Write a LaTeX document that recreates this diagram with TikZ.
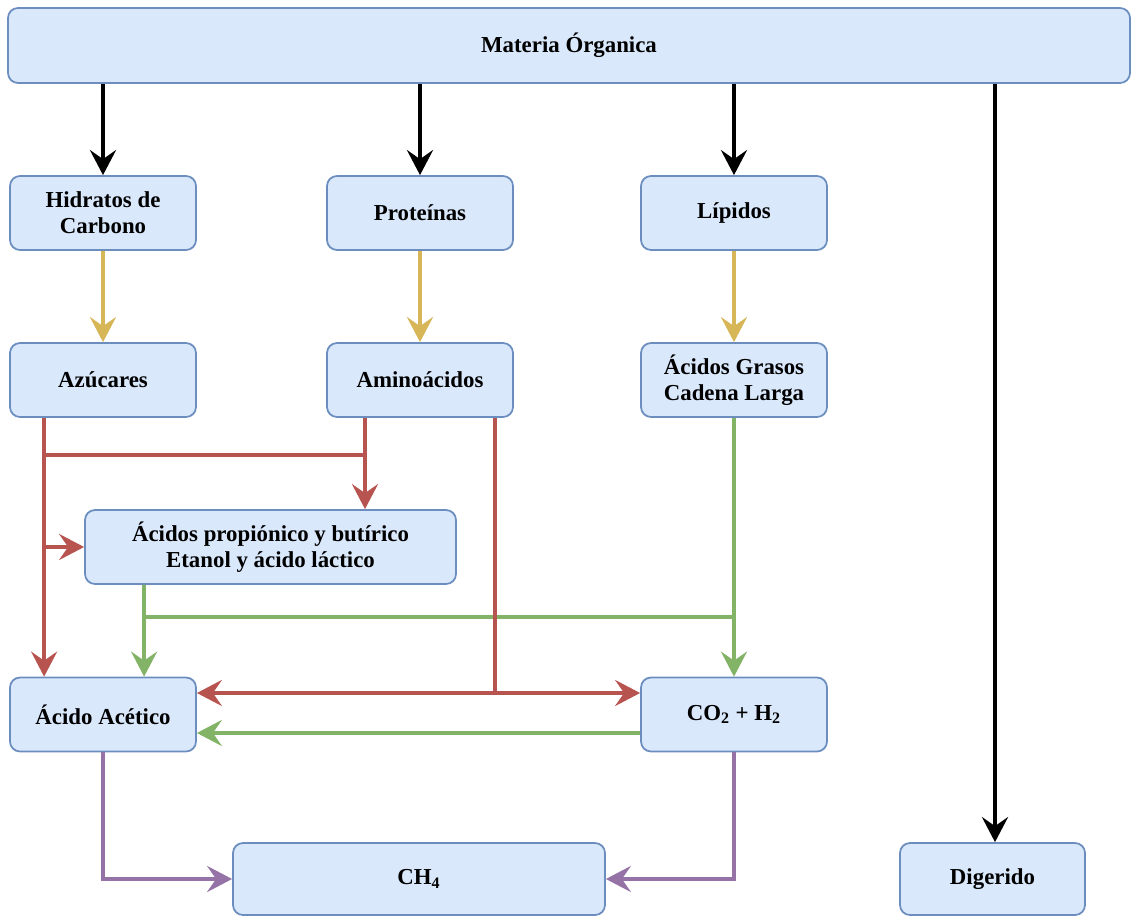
\documentclass[tikz,border=0pt]{standalone}
\usepackage{fontspec}
\setmainfont{Liberation Serif}
\usepackage{xcolor}
\usetikzlibrary{arrows.meta,positioning,calc}

\definecolor{boxfill}{HTML}{DAE8FC}
\definecolor{boxline}{HTML}{6C8EBF}
\definecolor{hidro}{HTML}{D6B656}
\definecolor{acido}{HTML}{B85450}
\definecolor{aceto}{HTML}{82B366}
\definecolor{metano}{HTML}{9673A6}

\begin{document}
\begin{tikzpicture}[
    >={Stealth[length=5mm,width=5.2mm,inset=1.8mm]},
    font=\fontsize{13}{15}\selectfont\bfseries,
    box/.style={
        draw=boxline,
        fill=boxfill,
        rounded corners=2mm,
        line width=1pt,
        minimum width=3.72cm,
        minimum height=1.48cm,
        align=center
    },
    wide/.style={
        box,
        minimum width=7.42cm
    },
    arr/.style={->, line width=2.1pt},
    seg/.style={line width=2.1pt}
]
\useasboundingbox (0,0) rectangle (22.68,-18.36);

% top
\node[box, minimum width=22.44cm, minimum height=1.5cm] (mo) at (11.38,-0.91) {Materia Órganica};

% first row
\node[box] (hc) at (2.06,-4.26) {Hidratos de\\Carbono};
\node[box] (prot) at (8.4,-4.26) {Proteínas};
\node[box] (lip) at (14.68,-4.26) {Lípidos};

% second row
\node[box] (az) at (2.06,-7.6) {Azúcares};
\node[box] (amino) at (8.4,-7.6) {Aminoácidos};
\node[box] (agcl) at (14.68,-7.6) {Ácidos Grasos\\Cadena Larga};

% middle
\node[wide] (prop) at (5.41,-10.94) {Ácidos propiónico y butírico\\Etanol y ácido láctico};

% third row
\node[box] (acet) at (2.06,-14.29) {Ácido Acético};
\node[box] (co2) at (14.68,-14.29) {CO\textsubscript{2} + H\textsubscript{2}};

% bottom
\node[wide, minimum width=7.44cm, minimum height=1.44cm] (ch4) at (8.38,-17.58) {CH\textsubscript{4}};
\node[box, minimum width=3.7cm, minimum height=1.44cm] (dig) at (19.85,-17.58) {Digerido};

% hydrolysis
\draw[arr, line width=2.5pt] (hc |- mo.south) -- (hc.north);
\draw[arr, line width=2.5pt] (prot |- mo.south) -- (prot.north);
\draw[arr, line width=2.5pt] (lip |- mo.south) -- (lip.north);
\draw[arr, line width=2.5pt] ([xshift=0.05cm]dig.north |- mo.south) -- ([xshift=0.05cm]dig.north);

\draw[arr, hidro] (hc) -- (az);
\draw[arr, hidro] (prot) -- (amino);
\draw[arr, hidro] (lip) -- (agcl);

% acetogenesis
\coordinate (g1) at ([xshift=1.2cm]prop.south west);
\coordinate (gm) at (0,-12.34);
\coordinate (gl) at (0,-14.66);
\draw[arr, aceto] (agcl) -- (co2);
\draw[arr, aceto] (g1) -- (g1 |- acet.north);
\draw[seg, aceto] (g1 |- gm) -- (agcl |- gm);
\draw[arr, aceto] (co2.west |- gl) -- (acet.east |- gl);

% acidogenesis
\coordinate (r1) at ([xshift=7mm]az.south west);
\coordinate (r2) at ([xshift=-1.1cm]amino.south);
\coordinate (r3) at ([xshift=1.5cm]amino.south);
\coordinate (jn) at (0,-9.1);
\coordinate (rm) at (0,-13.86);
\draw[arr, acido] (r1) -- (r1 |- acet.north);
\draw[seg, acido] (r1 |- jn) -- (r2 |- jn);
\draw[arr, acido] (r2) -- (r2 |- prop.north);
\draw[arr, acido] (r1 |- prop.west) -- (prop.west);
\draw[seg, acido] (r3) -- (r3 |- rm);
\draw[arr, acido] (r3 |- rm) -- (acet.east |- rm);
\draw[arr, acido] (r3 |- rm) -- (co2.west |- rm);

% methanogenesis
\draw[arr, metano] (acet.south) |- (ch4.west);
\draw[arr, metano] (co2.south) |- (ch4.east);

\end{tikzpicture}
\end{document}
